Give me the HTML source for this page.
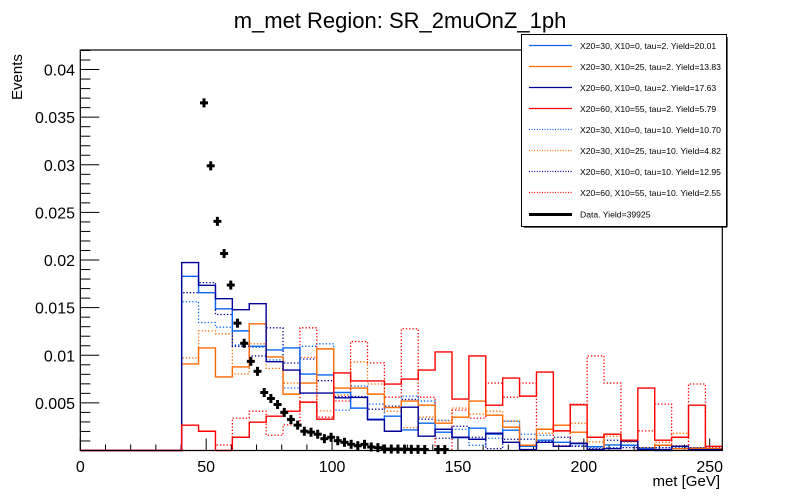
<!DOCTYPE html>
<html><head><meta charset="utf-8"><style>
html,body{margin:0;padding:0;background:#fff;}
svg{display:block;font-family:"Liberation Sans",Arial,sans-serif;}
</style></head><body>
<svg id="chart" width="800" height="500" viewBox="0 0 800 500">
<rect x="0" y="0" width="800" height="500" fill="#fff"/>
<text x="400" y="28" font-size="22" text-anchor="middle">m_met Region: SR_2muOnZ_1ph</text>
<text transform="translate(22,100) rotate(-90)" font-size="15" text-anchor="start">Events</text>
<text x="720" y="486" font-size="15" text-anchor="end">met [GeV]</text>
<g id="axes"></g>
<g id="series"></g>
<g id="data"></g>
<rect x="80.3" y="50" width="642" height="400.5" fill="none" stroke="#000" stroke-width="1.2"/>
<g id="legend"></g>
</svg>
<script>
const xTicks = [0, 50, 100, 150, 200, 250];
const yTicks = [0.005, 0.01, 0.015, 0.02, 0.025, 0.03, 0.035, 0.04];
const yTickLabels = ["0.005","0.01","0.015","0.02","0.025","0.03","0.035","0.04"];
const seriesNames = ["X20=30, X10=0, tau=2. Yield=20.01","X20=30, X10=25, tau=2. Yield=13.83","X20=60, X10=0, tau=2. Yield=17.63","X20=60, X10=55, tau=2. Yield=5.79","X20=30, X10=0, tau=10. Yield=10.70","X20=30, X10=25, tau=10. Yield=4.82","X20=60, X10=0, tau=10. Yield=12.95","X20=60, X10=55, tau=10. Yield=2.55"];
const s1 = [0.01829,0.01657,0.01488,0.01256,0.01094,0.01056,0.01077,0.00803,0.00793,0.00609,0.00445,0.00329,0.0036,0.00216,0.00287,0.00192,0.00135,0.00234,0.00171,0.00213,0.00044,0.00108,0.00086,0.00072,0.0004,0.00058,0.00055,0.0002,0.0,0.0002,0.0002,0.0002];
const s2 = [0.00909,0.01077,0.00772,0.00877,0.0133,0.00982,0.00592,0.00708,0.01067,0.00656,0.00656,0.00592,0.00451,0.00519,0.00476,0.00287,0.0035,0.00519,0.00371,0.00245,0.00055,0.00223,0.00266,0.00192,0.0001,0.00171,0.00097,0.0001,0.00055,0.0002,0.0002,0.0002];
const s3 = [0.01973,0.01734,0.01594,0.01478,0.01541,0.00933,0.00845,0.00603,0.00603,0.00553,0.00557,0.00322,0.00202,0.00455,0.0015,0.00223,0.00139,0.00118,0.00181,0.00086,0.0001,0.00086,0.00044,0.00076,0.0001,0.0002,0.001,0.0001,0.0001,0.00044,0.0001,0.0001];
const s4 = [0.00266,0.00202,0,0.00139,0.00297,0.0036,0.00413,0.00508,0.00329,0.00814,0.0073,0.0073,0.00698,0.0075,0.00845,0.01035,0.0054,0.00993,0.00476,0.00761,0.00571,0.00824,0.00206,0.0048,0.00139,0.00171,0.00108,0.00656,0.00108,0.00139,0.00476,0.00044];
const s5 = [0.01562,0.01344,0.01295,0.01109,0.01084,0.00951,0.00656,0.01094,0.0112,0.00424,0.00677,0.00487,0.00202,0.00571,0.00519,0.00318,0.00223,0.00055,0.00129,0.00308,0.00171,0.0016,0.0005,0.0005,0.0003,0.0003,0.0005,0.0003,0.0003,0.0003,0.0002,0.0002];
const s6 = [0.00972,0.01256,0.01225,0.00803,0.0112,0.00862,0.00708,0.00978,0.00416,0.00582,0.0093,0.00698,0.00413,0.0024,0.0035,0.00311,0.00445,0.00382,0.00413,0.00308,0,0.00181,0.00206,0.00287,0.0009,0.0015,0.0009,0.0003,0.00086,0.00181,0.0003,0.0002];
const s7 = [0.01657,0.01763,0.01428,0.01094,0.00993,0.01288,0.00919,0.00961,0.00733,0.00567,0.00567,0.00434,0.00466,0.00536,0.00329,0.00129,0.00255,0.00139,0.0002,0.00118,0.00118,0.00097,0.00139,0.00044,0.0002,0.00108,0.0003,0.0003,0.0003,0.0002,0.0003,0.0002];
const s8 = [0,0,0.00058,0.0034,0.00413,0.0016,0.00269,0.01288,0.0035,0.0052,0.01144,0.0092,0.0056,0.01278,0.0056,0,0.00424,0.0034,0.00708,0.0056,0.00708,0.00223,0.0005,0.00487,0.00993,0.00708,0,0.00206,0.00487,0.0005,0.00698,0.0003];
const dataVals = [0.0365,0.02989,0.02406,0.02068,0.01737,0.01337,0.01126,0.00936,0.00831,0.00609,0.00546,0.00483,0.004,0.00325,0.00266,0.00202,0.00192,0.00171,0.00124,0.00139,0.00103,0.00086,0.00065,0.0005,0.00065,0.00037,0.0003,0.00016,0.00015,0.00015,0.00014,0.00012,0.00012,0.0001,0,0.0001,0.0001];
const dataFirstBin = 18;

const XMAX = 255, NB = 38, FIRST = 6, DNB = 96;
const X0 = 80.3, XW = 642, Y0 = 450.5, YS = 9524;
function xs(v){ return X0 + v / XMAX * XW; }
function ys(v){ return Y0 - v * YS; }
const NS = "http://www.w3.org/2000/svg";
function mk(tag, attrs, parent){ const e = document.createElementNS(NS, tag); for (const k in attrs) e.setAttribute(k, attrs[k]); parent.appendChild(e); return e; }

const axes = document.getElementById('axes');
for (let v = 0; v <= 250; v += 10) {
  const major = v % 50 === 0;
  const t = mk('line', {x1: xs(v), x2: xs(v), y1: Y0, y2: Y0 - (major ? 12 : 6), stroke: '#000', 'stroke-width': 1}, axes);
  
  
}
xTicks.forEach(v => {
  const t = mk('text', {x: xs(v), y: 472, 'font-size': 16, 'text-anchor': 'middle'}, axes);
  t.textContent = String(v);
  
  
});
for (let i = 1; i <= 42; i++) {
  const v = i * 0.001;
  const major = i % 5 === 0;
  const t = mk('line', {x1: X0, x2: X0 + (major ? 19 : 10), y1: ys(v), y2: ys(v), stroke: '#000', 'stroke-width': 1}, axes);
  
  
}
yTicks.forEach((v, i) => {
  const t = mk('text', {x: 75, y: ys(v) + 6, 'font-size': 16, 'text-anchor': 'end'}, axes);
  t.textContent = yTickLabels[i];
  
  
});

const allSeries = [s1, s2, s3, s4, s5, s6, s7, s8];
const colors = ['#0a66f0','#ff6a00','#000099','#ff0000','#0a66f0','#ff6a00','#000099','#ff0000'];
const seriesKeys = ['blue-solid','orange-solid','navy-solid','red-solid','blue-dotted','orange-dotted','navy-dotted','red-dotted'];
const drawOrder = [4,5,6,7,0,1,2,3];
const sg = document.getElementById('series');
const bw = XMAX / NB;
drawOrder.forEach(si => {
  const vals = allSeries[si];
  let d = 'M' + xs(0) + ',' + ys(0) + ' L' + xs(FIRST * bw) + ',' + ys(0);
  vals.forEach((v, i) => {
    const a = (FIRST + i) * bw, b = (FIRST + i + 1) * bw;
    d += ' L' + xs(a) + ',' + ys(v) + ' L' + xs(b) + ',' + ys(v);
  });
  d += ' L' + xs(XMAX) + ',' + ys(0);
  const dotted = si >= 4;
  const p = mk('path', {d: d, fill: 'none', stroke: colors[si], 'stroke-width': dotted ? 1.3 : 1.4, 'stroke-dasharray': dotted ? '1.3,2' : 'none'}, sg);
  
  
});

const dg = document.getElementById('data');
const dbw = XMAX / DNB;
dataVals.forEach((v, i) => {
  if (v <= 0) return;
  const b = dataFirstBin + i;
  const cx = xs((b + 0.5) * dbw), cy = ys(v);
  const g = mk('g', {}, dg);
  
  
  mk('line', {x1: cx - 4, x2: cx + 4, y1: cy, y2: cy, stroke: '#000', 'stroke-width': 3}, g);
  mk('line', {x1: cx, x2: cx, y1: cy - 4.5, y2: cy + 4.5, stroke: '#000', 'stroke-width': 3}, g);
});

const lg = document.getElementById('legend');
mk('rect', {x: 521.5, y: 34.5, width: 205, height: 192, fill: '#fff', stroke: '#000', 'stroke-width': 1}, lg);
mk('line', {x1: 524, x2: 727, y1: 227, y2: 227, stroke: '#000', 'stroke-width': 1.2}, lg);
mk('line', {x1: 727, x2: 727, y1: 37, y2: 227, stroke: '#000', 'stroke-width': 1.2}, lg);
for (let i = 0; i < 9; i++) {
  const yy = 45.5 + i * 21;
  const g = mk('g', {}, lg);
  
  
  if (i < 8) {
    const dotted = i >= 4;
    mk('line', {x1: 529, x2: 572, y1: yy, y2: yy, stroke: colors[i], 'stroke-width': 1.2, 'stroke-dasharray': dotted ? '1,1.6' : 'none'}, g);
    const t = mk('text', {x: 580, y: yy + 3.5, 'font-size': 8.6}, g);
    t.textContent = seriesNames[i];
  } else {
    mk('line', {x1: 529, x2: 572, y1: yy + 1, y2: yy + 1, stroke: '#000', 'stroke-width': 3}, g);
    const t = mk('text', {x: 580, y: yy + 4, 'font-size': 8.6}, g);
    t.textContent = 'Data. Yield=39925';
  }
}
</script>
</body></html>
